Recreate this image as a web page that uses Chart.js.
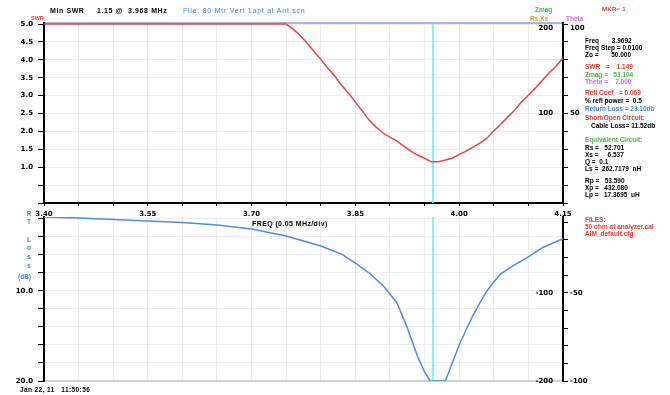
<!DOCTYPE html>
<html>
<head>
<meta charset="utf-8">
<title>80 Mtr Vert - SWR / Return Loss</title>
<script src="https://cdn.jsdelivr.net/npm/chart.js@4.4.0/dist/chart.umd.min.js"></script>
<style>
  body { margin:0; background:#fff; width:670px; height:395px; overflow:hidden; position:relative;
         font-family:"Liberation Sans", Arial, sans-serif; font-weight:bold; }
  canvas { position:absolute; left:0; }
  #topChart { top:0; }
  #botChart { top:205px; }
  .t { position:absolute; white-space:pre; font-size:7px; line-height:8px; color:#000; }
  .info { position:absolute; left:585px; white-space:pre; font-size:6.5px; line-height:7px; }
  .red { color:#e8392d; } .green { color:#47b947; } .blue { color:#3b86ee; }
  .orange { color:#ee9a2a; } .purple { color:#cf6be0; }
</style>
</head>
<body>
<canvas id="topChart" width="670" height="217"></canvas>
<canvas id="botChart" width="670" height="190"></canvas>

<div class="t" style="left:50px;top:7px;letter-spacing:0.6px">Min SWR</div>
<div class="t" style="left:97px;top:7px;letter-spacing:0.6px">1.15 @  3.968 MHz</div>
<div class="t blue" style="left:183px;top:7px;font-weight:normal;letter-spacing:0.75px">File: 80 Mtr Vert 1apt at Ant.scn</div>
<div class="t red" style="left:31px;top:14px;font-size:5.5px">SWR</div>
<div class="t green" style="left:535px;top:6px;font-size:6.5px">Zmag</div>
<div class="t orange" style="left:530px;top:15px;font-size:6.5px">Rs,Xs</div>
<div class="t purple" style="left:566px;top:15px;font-size:6.5px">Theta</div>
<div class="t red" style="left:602px;top:5px;font-size:6px;letter-spacing:0.3px">MKR= 1</div>
<div class="t" style="left:252px;top:220px;letter-spacing:0.4px">FREQ (0.05 MHz/div)</div>
<div class="t" style="left:20px;top:386px;font-size:6.5px;letter-spacing:0.4px">Jan 22, 11   11:50:56</div>
<div class="t blue" style="left:22px;top:209.6px;font-size:6.5px;line-height:8.7px;text-align:center;width:14px">R
T

L
o
s
s</div>
<div class="t blue" style="left:18px;top:273px;font-size:6.5px">(dB)</div>

<div class="info" style="top:37px">Freq       3.9692
Freq Step = 0.0100
Zo =       50.000</div>
<div class="info red" style="top:63px">SWR   =    1.149</div>
<div class="info green" style="top:71px">Zmag =   53.104</div>
<div class="info purple" style="top:78px">Theta =    7.000</div>
<div class="info red" style="top:89px">Refl Coef   = 0.069</div>
<div class="info" style="top:97px">% refl power =  0.5</div>
<div class="info blue" style="top:105px">Return Loss = 23.10db</div>
<div class="info red" style="top:114px">Short/Open Circuit:</div>
<div class="info" style="top:122px;left:591px">Cable Loss= 11.52db</div>
<div class="info green" style="top:136px">Equivalent Circuit:</div>
<div class="info" style="top:144px">Rs =   52.701
Xs =     6.537
Q =  0.1
Ls =  262.7179  nH</div>
<div class="info" style="top:177px">Rp =   53.590
Xp =   432.080
Lp =   17.3695  uH</div>
<div class="info red" style="top:216px">FILES:
50 ohm at analyzer.cal
AIM_default.cfg</div>

<script>
// SWR sweep (top panel), values above 5 shown clipped at 5.0
const swrFreq = [3.40, 3.75, 3.76, 3.77, 3.78, 3.79, 3.80, 3.81, 3.82, 3.83, 3.84, 3.85, 3.86, 3.87, 3.88, 3.89,
                 3.90, 3.91, 3.92, 3.93, 3.94, 3.95, 3.96, 3.97, 3.98, 3.99, 4.00, 4.01, 4.02, 4.03, 4.04, 4.05,
                 4.06, 4.07, 4.08, 4.09, 4.10, 4.11, 4.12, 4.13, 4.14, 4.15];
const swrVals = [5.00, 5.00, 4.86, 4.69, 4.47, 4.24, 4.02, 3.77, 3.55, 3.29, 3.07, 2.82, 2.57, 2.31, 2.12, 1.95,
                 1.84, 1.73, 1.59, 1.45, 1.34, 1.25, 1.15, 1.15, 1.20, 1.25, 1.36, 1.45, 1.56, 1.67, 1.81, 2.01,
                 2.20, 2.40, 2.59, 2.82, 3.01, 3.21, 3.43, 3.63, 3.83, 4.05];

// return loss in dB (bottom panel), clipped at 20 dB
const rlFreq = [3.40, 3.45, 3.50, 3.55, 3.60, 3.65, 3.70, 3.75, 3.80, 3.83, 3.85, 3.87, 3.89, 3.91, 3.925, 3.94,
                3.95, 3.958, 3.98, 3.99, 4.00, 4.01, 4.02, 4.03, 4.04, 4.05, 4.06, 4.08, 4.10, 4.12, 4.15];
const rlVals = [1.78, 1.89, 2.06, 2.22, 2.39, 2.67, 3.11, 3.89, 5.0, 5.9, 6.9, 8.0, 9.4, 11.3, 14.1, 17.3,
                19.0, 20.0, 20.0, 18.0, 16.0, 14.3, 12.7, 11.3, 10.0, 9.0, 8.1, 7.1, 6.2, 5.2, 4.2];

const markerFreq = 3.962;

const freqMin = 3.40, freqMax = 4.15, freqStep = 0.05;
const xTickLabels = ['3.40', '3.55', '3.70', '3.85', '4.00', '4.15'];
const swrTicks = [0, 0.5, 1, 1.5, 2, 2.5, 3, 3.5, 4, 4.5, 5];
const swrTickLabels = ['1.0', '1.5', '2.0', '2.5', '3.0', '3.5', '4.0', '4.5', '5.0'];
const rlTicks = [2, 4, 6, 8, 10, 12, 14, 16, 18, 20];
const rlTickLabels = ['10.0', '20.0'];
const rsTopTicks = [100, 200];
const rsBotTicks = [-100, -200];
const thetaTopTicks = [0, 10, 20, 30, 40, 50, 60, 70, 80, 90, 100];
const thetaTopLabels = [50, 100];
const thetaBotTicks = [-10, -20, -30, -40, -50, -60, -70, -80, -90, -100];
const thetaBotLabels = [-50, -100];

const tickFont = { family: 'DejaVu Sans', size: 7, weight: 'bold' };
const gridCol = '#ededed';
const markerCol = '#7ff3f3';
const topHead = 1.006;   // a hair of room above 5.0 for the top border

let freqGrid = [];
for (let i = 0; i <= Math.round((freqMax - freqMin) / freqStep); i++) {
    freqGrid.push(Number((freqMin + i * freqStep).toFixed(2)));
}

function pts(xs, ys) { return xs.map((x, i) => ({ x: x, y: ys[i] })); }
function setTicks(list) { return function(scale) { scale.ticks = list.map(v => ({ value: v })); }; }
function fixW(w) { return function(scale) { scale.width = w; }; }
function fixH(h) { return function(scale) { scale.height = h; }; }
// the top-most label of a right axis sits just under the tick
function rightLabel(v, top) { return v === top ? ['', String(v)] : String(v); }

function rightAxes(rsMin, rsMax, rsTicks, thMin, thMax, thTicks, thLabels) {
    const rsTop = Math.max.apply(null, rsTicks), thTop = Math.max.apply(null, thLabels);
    return {
        rs: {
            type: 'linear', position: 'right', min: rsMin, max: rsMax,
            afterBuildTicks: setTicks(rsTicks), afterFit: fixW(0),
            grid: { display: false }, border: { display: false },
            ticks: { mirror: true, padding: -10, font: tickFont, color: '#000', autoSkip: false,
                     callback: v => rightLabel(v, rsTop > 0 ? rsTop : null) }
        },
        theta: {
            type: 'linear', position: 'right', min: thMin, max: thMax,
            afterBuildTicks: setTicks(thTicks), afterFit: fixW(670 - 563),
            grid: { drawOnChartArea: false, tickColor: '#000', tickLength: 5 },
            border: { color: '#000', width: 2 },
            ticks: { padding: 2, font: tickFont, color: '#000', autoSkip: false,
                     callback: v => thLabels.includes(v) ? rightLabel(v, thTop > 0 ? thTop : null) : '' }
        }
    };
}

const topCtx = document.getElementById('topChart').getContext('2d');
new Chart(topCtx, {
    type: 'line',
    data: {
        datasets: [{
            label: 'SWR',
            data: pts(swrFreq, swrVals),
            borderColor: '#e8453a',
            borderWidth: 1.5,
            pointRadius: 0,
            tension: 0,
            yAxisID: 'y'
        }, {
            label: 'marker',
            data: [{ x: markerFreq, y: 0 }, { x: markerFreq, y: 5 }],
            borderColor: markerCol,
            borderWidth: 2,
            pointRadius: 0,
            yAxisID: 'y'
        }]
    },
    options: {
        responsive: false,
        animation: false,
        layout: { padding: { top: 23, left: 0, right: 0, bottom: 0 } },
        plugins: { legend: { display: false }, tooltip: { enabled: false } },
        scales: Object.assign({
            x: {
                type: 'linear', position: 'bottom', min: freqMin, max: freqMax,
                afterBuildTicks: setTicks(freqGrid), afterFit: fixH(14),
                grid: { color: gridCol, tickColor: '#000', tickLength: 3 },
                border: { color: '#000', width: 2 },
                ticks: { autoSkip: false, maxRotation: 0, padding: 4, font: tickFont, color: '#000',
                         callback: v => { const l = Number(v).toFixed(2); return xTickLabels.includes(l) ? l : ''; } }
            },
            xTop: {
                type: 'linear', position: 'top', min: freqMin, max: freqMax,
                afterFit: fixH(0),
                grid: { display: false }, ticks: { display: false },
                border: { color: '#a9b3f2', width: 2 }
            },
            y: {
                type: 'linear', position: 'left', min: 0, max: 5 * topHead,
                afterBuildTicks: setTicks(swrTicks), afterFit: fixW(44),
                ticks: { padding: 5, font: tickFont, color: '#000', autoSkip: false,
                         callback: v => { const l = v.toFixed(1); return swrTickLabels.includes(l) ? l : ''; } },
                grid: { color: gridCol, tickColor: '#000', tickLength: 6 },
                border: { color: '#000', width: 2 }
            }
        }, rightAxes(0, 200 * topHead, rsTopTicks, 0, 100 * topHead, thetaTopTicks, thetaTopLabels))
    }
});

const botCtx = document.getElementById('botChart').getContext('2d');
new Chart(botCtx, {
    type: 'line',
    data: {
        datasets: [{
            label: 'Return Loss',
            data: pts(rlFreq, rlVals),
            borderColor: '#4a8cf2',
            borderWidth: 1.5,
            pointRadius: 0,
            tension: 0,
            yAxisID: 'y'
        }, {
            label: 'marker',
            data: [{ x: markerFreq, y: 1.78 }, { x: markerFreq, y: 20 }],
            borderColor: markerCol,
            borderWidth: 2,
            pointRadius: 0,
            yAxisID: 'y'
        }]
    },
    options: {
        responsive: false,
        animation: false,
        layout: { padding: { top: 12, left: 0, right: 0, bottom: 0 } },
        plugins: { legend: { display: false }, tooltip: { enabled: false } },
        scales: Object.assign({
            x: {
                type: 'linear', position: 'bottom', min: freqMin, max: freqMax,
                afterBuildTicks: setTicks(freqGrid), afterFit: fixH(14),
                grid: { color: gridCol, drawTicks: false },
                border: { color: '#d0d0d0', width: 2 },
                ticks: { display: false }
            },
            y: {
                type: 'linear', position: 'left', min: 1.78, max: 20, reverse: true,
                afterBuildTicks: setTicks(rlTicks), afterFit: fixW(44),
                ticks: { padding: 5, font: tickFont, color: '#000', autoSkip: false,
                         callback: v => { const l = v.toFixed(1); return rlTickLabels.includes(l) ? l : ''; } },
                grid: { color: gridCol, tickColor: '#000', tickLength: 6 },
                border: { color: '#000', width: 2 }
            }
        }, rightAxes(-200, -14, rsBotTicks, -100, -7, thetaBotTicks, thetaBotLabels))
    }
});
</script>
</body>
</html>
